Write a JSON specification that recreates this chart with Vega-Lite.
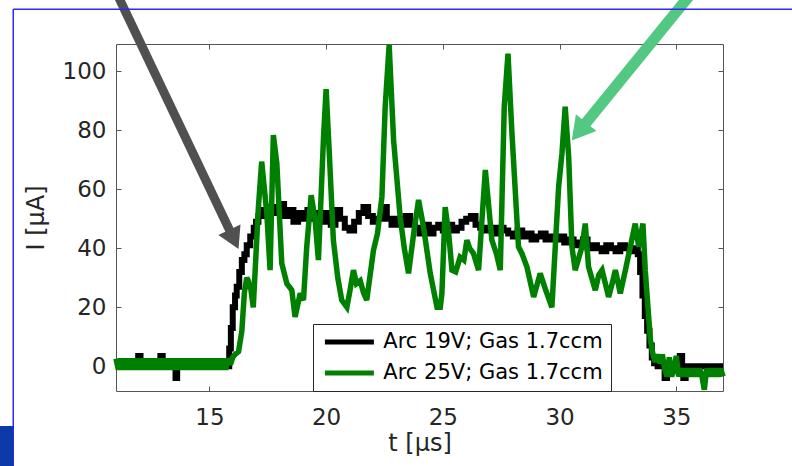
{
  "$schema": "https://vega.github.io/schema/vega-lite/v6.json",
  "width": 607,
  "height": 347,
  "autosize": {"type": "none"},
  "padding": {"left": 116, "top": 44, "right": 69, "bottom": 75},
  "background": "white",
  "config": {
    "view": {"stroke": null},
    "font": "DejaVu Sans",
    "axis": {
      "grid": false,
      "domainColor": "#555555",
      "domainWidth": 1,
      "tickColor": "#555555",
      "tickWidth": 1,
      "tickSize": -5,
      "labelFont": "DejaVu Sans",
      "labelFontSize": 23,
      "labelColor": "#262626",
      "titleFont": "DejaVu Sans",
      "titleFontSize": 24,
      "titleFontWeight": "normal",
      "titleColor": "#262626"
    },
    "legend": {
      "orient": "none",
      "legendX": 197,
      "legendY": 280,
      "title": null,
      "labelFont": "DejaVu Sans",
      "labelFontSize": 21,
      "labelColor": "#000000",
      "labelLimit": 0,
      "strokeColor": "#262626",
      "fillColor": "white",
      "padding": 7.5,
      "symbolType": "M-4,0H4",
      "symbolSize": 150,
      "symbolStrokeWidth": 5,
      "symbolOffset": 18.4,
      "labelOffset": 23.4,
      "rowPadding": 9
    }
  },
  "datasets": {
    "black": [
      {"t": 11.0, "I": 0}, {"t": 11.95, "I": 3.5}, {"t": 12.05, "I": 0}, {"t": 12.9, "I": 3.5}, {"t": 13.0, "I": 0},
      {"t": 13.55, "I": -4}, {"t": 13.62, "I": 0}, {"t": 15.8, "I": 0}, {"t": 15.85, "I": 6}, {"t": 15.92, "I": 13},
      {"t": 16.0, "I": 20}, {"t": 16.1, "I": 24}, {"t": 16.17, "I": 27}, {"t": 16.28, "I": 32}, {"t": 16.39, "I": 36},
      {"t": 16.5, "I": 38}, {"t": 16.6, "I": 41}, {"t": 16.75, "I": 44}, {"t": 16.9, "I": 47}, {"t": 17.0, "I": 49},
      {"t": 17.1, "I": 51}, {"t": 17.24, "I": 53}, {"t": 17.4, "I": 51}, {"t": 17.6, "I": 54}, {"t": 17.8, "I": 52},
      {"t": 18.0, "I": 55}, {"t": 18.2, "I": 51}, {"t": 18.4, "I": 53}, {"t": 18.6, "I": 49}, {"t": 18.8, "I": 52},
      {"t": 19.0, "I": 50}, {"t": 19.2, "I": 53}, {"t": 19.4, "I": 50}, {"t": 19.6, "I": 52}, {"t": 19.8, "I": 49},
      {"t": 20.0, "I": 52}, {"t": 20.2, "I": 48}, {"t": 20.4, "I": 53}, {"t": 20.6, "I": 50}, {"t": 20.8, "I": 47},
      {"t": 21.0, "I": 46}, {"t": 21.2, "I": 49}, {"t": 21.4, "I": 52}, {"t": 21.6, "I": 54}, {"t": 21.8, "I": 51},
      {"t": 22.0, "I": 49}, {"t": 22.2, "I": 50}, {"t": 22.4, "I": 54}, {"t": 22.6, "I": 50}, {"t": 22.8, "I": 48},
      {"t": 23.0, "I": 50}, {"t": 23.2, "I": 48}, {"t": 23.4, "I": 51}, {"t": 23.6, "I": 48}, {"t": 23.8, "I": 47},
      {"t": 24.0, "I": 45}, {"t": 24.2, "I": 48}, {"t": 24.4, "I": 45}, {"t": 24.6, "I": 47}, {"t": 24.8, "I": 48},
      {"t": 25.0, "I": 46}, {"t": 25.2, "I": 48}, {"t": 25.4, "I": 46}, {"t": 25.6, "I": 47}, {"t": 25.8, "I": 49},
      {"t": 26.0, "I": 50}, {"t": 26.2, "I": 51}, {"t": 26.4, "I": 48}, {"t": 26.6, "I": 47}, {"t": 26.8, "I": 46},
      {"t": 27.0, "I": 47}, {"t": 27.2, "I": 45}, {"t": 27.4, "I": 47}, {"t": 27.6, "I": 46}, {"t": 27.8, "I": 45},
      {"t": 28.0, "I": 44}, {"t": 28.2, "I": 46}, {"t": 28.4, "I": 44}, {"t": 28.6, "I": 45}, {"t": 28.8, "I": 43},
      {"t": 29.0, "I": 44}, {"t": 29.2, "I": 45}, {"t": 29.4, "I": 43}, {"t": 29.6, "I": 44}, {"t": 29.8, "I": 43},
      {"t": 30.0, "I": 44}, {"t": 30.2, "I": 42}, {"t": 30.4, "I": 43}, {"t": 30.6, "I": 41}, {"t": 30.8, "I": 42},
      {"t": 31.0, "I": 43}, {"t": 31.2, "I": 40}, {"t": 31.4, "I": 41}, {"t": 31.6, "I": 40}, {"t": 31.8, "I": 39},
      {"t": 32.0, "I": 41}, {"t": 32.2, "I": 40}, {"t": 32.4, "I": 39}, {"t": 32.6, "I": 41}, {"t": 32.8, "I": 40},
      {"t": 33.0, "I": 39}, {"t": 33.2, "I": 40}, {"t": 33.35, "I": 38}, {"t": 33.45, "I": 32}, {"t": 33.55, "I": 24},
      {"t": 33.65, "I": 17}, {"t": 33.75, "I": 12}, {"t": 33.85, "I": 7}, {"t": 33.95, "I": 3}, {"t": 34.05, "I": 1},
      {"t": 34.2, "I": 0}, {"t": 34.5, "I": -4}, {"t": 34.6, "I": 0}, {"t": 35.15, "I": 3.5}, {"t": 35.25, "I": 0},
      {"t": 35.3, "I": -4}, {"t": 35.4, "I": 0}, {"t": 37.0, "I": 0}
    ],
    "green": [
      {"t": 11.0, "I": 2.6}, {"t": 11.1, "I": -1.2}, {"t": 11.2, "I": 2.6}, {"t": 11.3, "I": -1.2}, {"t": 11.4, "I": 2.6},
      {"t": 11.5, "I": -1.2}, {"t": 11.6, "I": 2.6}, {"t": 11.7, "I": -1.2}, {"t": 11.8, "I": 2.6}, {"t": 11.9, "I": -1.2},
      {"t": 12.0, "I": 2.6}, {"t": 12.1, "I": -1.2}, {"t": 12.2, "I": 2.6}, {"t": 12.3, "I": -1.2}, {"t": 12.4, "I": 2.6},
      {"t": 12.5, "I": -1.2}, {"t": 12.6, "I": 2.6}, {"t": 12.7, "I": -1.2}, {"t": 12.8, "I": 2.6}, {"t": 12.9, "I": -1.2},
      {"t": 13.0, "I": 2.6}, {"t": 13.1, "I": -1.2}, {"t": 13.2, "I": 2.6}, {"t": 13.3, "I": -1.2}, {"t": 13.4, "I": 2.6},
      {"t": 13.5, "I": -1.2}, {"t": 13.6, "I": 2.6}, {"t": 13.7, "I": -1.2}, {"t": 13.8, "I": 2.6}, {"t": 13.9, "I": -1.2},
      {"t": 14.0, "I": 2.6}, {"t": 14.1, "I": -1.2}, {"t": 14.2, "I": 2.6}, {"t": 14.3, "I": -1.2}, {"t": 14.4, "I": 2.6},
      {"t": 14.5, "I": -1.2}, {"t": 14.6, "I": 2.6}, {"t": 14.7, "I": -1.2}, {"t": 14.8, "I": 2.6}, {"t": 14.9, "I": -1.2},
      {"t": 15.0, "I": 2.6}, {"t": 15.1, "I": -1.2}, {"t": 15.2, "I": 2.6}, {"t": 15.3, "I": -1.2}, {"t": 15.4, "I": 2.6},
      {"t": 15.5, "I": -1.2}, {"t": 15.6, "I": 2.6}, {"t": 15.7, "I": -1.2}, {"t": 15.8, "I": 2.6}, {"t": 15.9, "I": 0.5},
      {"t": 16.0, "I": 3}, {"t": 16.1, "I": 4}, {"t": 16.25, "I": 5}, {"t": 16.39, "I": 12}, {"t": 16.5, "I": 25},
      {"t": 16.6, "I": 30}, {"t": 16.67, "I": 29}, {"t": 16.78, "I": 26}, {"t": 16.88, "I": 20}, {"t": 17.1, "I": 54},
      {"t": 17.24, "I": 69.4}, {"t": 17.46, "I": 51.8}, {"t": 17.6, "I": 32.6}, {"t": 17.74, "I": 78.4}, {"t": 17.89, "I": 68.8},
      {"t": 18.1, "I": 34.9}, {"t": 18.32, "I": 28}, {"t": 18.53, "I": 25.8}, {"t": 18.67, "I": 16.7}, {"t": 18.89, "I": 24.7},
      {"t": 19.03, "I": 22.4}, {"t": 19.17, "I": 40.5}, {"t": 19.36, "I": 58}, {"t": 19.53, "I": 49.6}, {"t": 19.67, "I": 36},
      {"t": 19.89, "I": 77.9}, {"t": 20.0, "I": 94}, {"t": 20.15, "I": 70}, {"t": 20.31, "I": 42.8}, {"t": 20.5, "I": 30},
      {"t": 20.67, "I": 22.4}, {"t": 20.89, "I": 20}, {"t": 21.03, "I": 26}, {"t": 21.17, "I": 32.6}, {"t": 21.3, "I": 28},
      {"t": 21.46, "I": 29}, {"t": 21.6, "I": 25}, {"t": 21.74, "I": 22.4}, {"t": 22.03, "I": 39.4}, {"t": 22.2, "I": 45},
      {"t": 22.39, "I": 57.5}, {"t": 22.53, "I": 88}, {"t": 22.7, "I": 109}, {"t": 22.89, "I": 76.7}, {"t": 23.17, "I": 50.7},
      {"t": 23.35, "I": 40}, {"t": 23.53, "I": 31.5}, {"t": 23.75, "I": 45}, {"t": 23.96, "I": 56.4}, {"t": 24.17, "I": 47.3},
      {"t": 24.46, "I": 31.5}, {"t": 24.75, "I": 20}, {"t": 24.89, "I": 20}, {"t": 24.96, "I": 24.7}, {"t": 25.1, "I": 54},
      {"t": 25.25, "I": 45}, {"t": 25.39, "I": 32.6}, {"t": 25.55, "I": 32}, {"t": 25.74, "I": 37}, {"t": 25.9, "I": 36},
      {"t": 26.03, "I": 42.8}, {"t": 26.15, "I": 40}, {"t": 26.31, "I": 38.3}, {"t": 26.53, "I": 32.6}, {"t": 26.82, "I": 66.6},
      {"t": 27.1, "I": 42.8}, {"t": 27.3, "I": 38}, {"t": 27.46, "I": 32.6}, {"t": 27.63, "I": 88}, {"t": 27.79, "I": 106},
      {"t": 27.96, "I": 79}, {"t": 28.24, "I": 40.5}, {"t": 28.4, "I": 38}, {"t": 28.6, "I": 33.7}, {"t": 28.89, "I": 23.5},
      {"t": 29.17, "I": 31.5}, {"t": 29.4, "I": 26}, {"t": 29.67, "I": 20}, {"t": 29.96, "I": 60.9}, {"t": 30.1, "I": 72},
      {"t": 30.24, "I": 88}, {"t": 30.39, "I": 71}, {"t": 30.53, "I": 40.5}, {"t": 30.67, "I": 32.6}, {"t": 30.96, "I": 40.5},
      {"t": 31.1, "I": 48.4}, {"t": 31.24, "I": 33.7}, {"t": 31.53, "I": 25.8}, {"t": 31.68, "I": 31}, {"t": 31.82, "I": 32.6},
      {"t": 32.1, "I": 23.5}, {"t": 32.25, "I": 28}, {"t": 32.39, "I": 32.6}, {"t": 32.6, "I": 24.7}, {"t": 32.82, "I": 32.6},
      {"t": 33.03, "I": 40.5}, {"t": 33.24, "I": 48.4}, {"t": 33.39, "I": 40.5}, {"t": 33.57, "I": 48.4}, {"t": 33.67, "I": 32.6},
      {"t": 33.89, "I": 8.8}, {"t": 34.0, "I": 4}, {"t": 34.1, "I": 1.5}, {"t": 34.2, "I": 4}, {"t": 34.3, "I": 1},
      {"t": 34.4, "I": 4}, {"t": 34.5, "I": -0.8}, {"t": 34.6, "I": -3.5}, {"t": 34.7, "I": 3}, {"t": 34.8, "I": -3.5},
      {"t": 34.9, "I": -0.8}, {"t": 35.0, "I": 3.5}, {"t": 35.1, "I": -3.5}, {"t": 35.2, "I": -0.8}, {"t": 35.3, "I": -3.5},
      {"t": 35.4, "I": -0.8}, {"t": 35.5, "I": -3.5}, {"t": 35.6, "I": -0.8}, {"t": 35.7, "I": -3.5}, {"t": 35.8, "I": -0.8},
      {"t": 35.9, "I": -3.5}, {"t": 36.0, "I": -0.8}, {"t": 36.1, "I": -3.5}, {"t": 36.2, "I": -8}, {"t": 36.3, "I": -0.8},
      {"t": 36.4, "I": -3.5}, {"t": 36.5, "I": -0.8}, {"t": 36.6, "I": -3.5}, {"t": 36.7, "I": -0.8}, {"t": 36.8, "I": -3.5},
      {"t": 36.9, "I": -0.8}, {"t": 37.0, "I": -3.5}
    ],
    "darkArrow": [{"t": 10.966, "I": 127.6, "t2": 16.053, "I2": 43.02}],
    "greenArrow": [{"t": 35.76, "I": 127.6, "t2": 30.83, "I2": 79.59}],
    "frame": [
      {"t": 6.599, "I": 121.07, "t2": 41.0, "I2": 121.07},
      {"t": 6.599, "I": 121.07, "t2": 6.599, "I2": -36.0}
    ],
    "patch": [{"t": 5.8, "t2": 6.599, "I": -20.27, "I2": -36.0}]
  },
  "resolve": {"axis": {"x": "independent", "y": "independent"}},
  "layer": [
    {
      "data": {"name": "black"},
      "mark": {"type": "line", "interpolate": "step-after", "strokeWidth": 6, "strokeCap": "butt", "strokeJoin": "miter"},
      "encoding": {
        "x": {"field": "t", "type": "quantitative", "scale": {"domain": [11, 37], "nice": false, "zero": false},
              "axis": {"orient": "bottom", "values": [15, 20, 25, 30, 35], "title": "t [μs]", "labelPadding": 20, "titlePadding": 2}},
        "y": {"field": "I", "type": "quantitative", "scale": {"domain": [-8.4, 109.3], "nice": false, "zero": false},
              "axis": {"orient": "left", "values": [0, 20, 40, 60, 80, 100], "title": "I [μA]", "labelPadding": 15, "titlePadding": 14}},
        "color": {"datum": "Arc 19V; Gas 1.7ccm", "type": "nominal",
                  "scale": {"domain": ["Arc 19V; Gas 1.7ccm", "Arc 25V; Gas 1.7ccm"], "range": ["#000000", "#008000"]}}
      }
    },
    {
      "data": {"name": "green"},
      "mark": {"type": "line", "strokeWidth": 5.5, "strokeJoin": "miter", "strokeMiterLimit": 3},
      "encoding": {
        "x": {"field": "t", "type": "quantitative", "scale": {"domain": [11, 37], "nice": false, "zero": false},
              "axis": {"orient": "top", "values": [15, 20, 25, 30, 35], "labels": false, "title": null}},
        "y": {"field": "I", "type": "quantitative", "scale": {"domain": [-8.4, 109.3], "nice": false, "zero": false},
              "axis": {"orient": "right", "values": [0, 20, 40, 60, 80, 100], "labels": false, "title": null}},
        "color": {"datum": "Arc 25V; Gas 1.7ccm", "type": "nominal"}
      }
    },
    {
      "data": {"name": "darkArrow"},
      "mark": {"type": "rule", "color": "#505050", "strokeWidth": 9, "strokeCap": "butt"},
      "encoding": {
        "x": {"field": "t", "type": "quantitative", "scale": {"domain": [11, 37]}, "axis": null},
        "y": {"field": "I", "type": "quantitative", "scale": {"domain": [-8.4, 109.3]}, "axis": null},
        "x2": {"field": "t2"},
        "y2": {"field": "I2"}
      }
    },
    {
      "data": {"name": "darkArrow"},
      "mark": {"type": "point", "shape": "triangle-up", "filled": true, "color": "#505050", "opacity": 1, "size": 600, "angle": 154.6},
      "encoding": {
        "x": {"field": "t2", "type": "quantitative", "scale": {"domain": [11, 37]}, "axis": null},
        "y": {"field": "I2", "type": "quantitative", "scale": {"domain": [-8.4, 109.3]}, "axis": null}
      }
    },
    {
      "data": {"name": "greenArrow"},
      "mark": {"type": "rule", "color": "#52c882", "strokeWidth": 11, "strokeCap": "butt"},
      "encoding": {
        "x": {"field": "t", "type": "quantitative", "scale": {"domain": [11, 37]}, "axis": null},
        "y": {"field": "I", "type": "quantitative", "scale": {"domain": [-8.4, 109.3]}, "axis": null},
        "x2": {"field": "t2"},
        "y2": {"field": "I2"}
      }
    },
    {
      "data": {"name": "greenArrow"},
      "mark": {"type": "point", "shape": "triangle-up", "filled": true, "color": "#52c882", "opacity": 1, "size": 700, "angle": 219},
      "encoding": {
        "x": {"field": "t2", "type": "quantitative", "scale": {"domain": [11, 37]}, "axis": null},
        "y": {"field": "I2", "type": "quantitative", "scale": {"domain": [-8.4, 109.3]}, "axis": null}
      }
    },
    {
      "data": {"name": "frame"},
      "mark": {"type": "rule", "color": "#2a2aff", "strokeWidth": 1.5},
      "encoding": {
        "x": {"field": "t", "type": "quantitative", "scale": {"domain": [11, 37]}, "axis": null},
        "y": {"field": "I", "type": "quantitative", "scale": {"domain": [-8.4, 109.3]}, "axis": null},
        "x2": {"field": "t2"},
        "y2": {"field": "I2"}
      }
    },
    {
      "data": {"name": "patch"},
      "mark": {"type": "rect", "color": "#0d3aa9"},
      "encoding": {
        "x": {"field": "t", "type": "quantitative", "scale": {"domain": [11, 37]}, "axis": null},
        "y": {"field": "I", "type": "quantitative", "scale": {"domain": [-8.4, 109.3]}, "axis": null},
        "x2": {"field": "t2"},
        "y2": {"field": "I2"}
      }
    }
  ]
}
